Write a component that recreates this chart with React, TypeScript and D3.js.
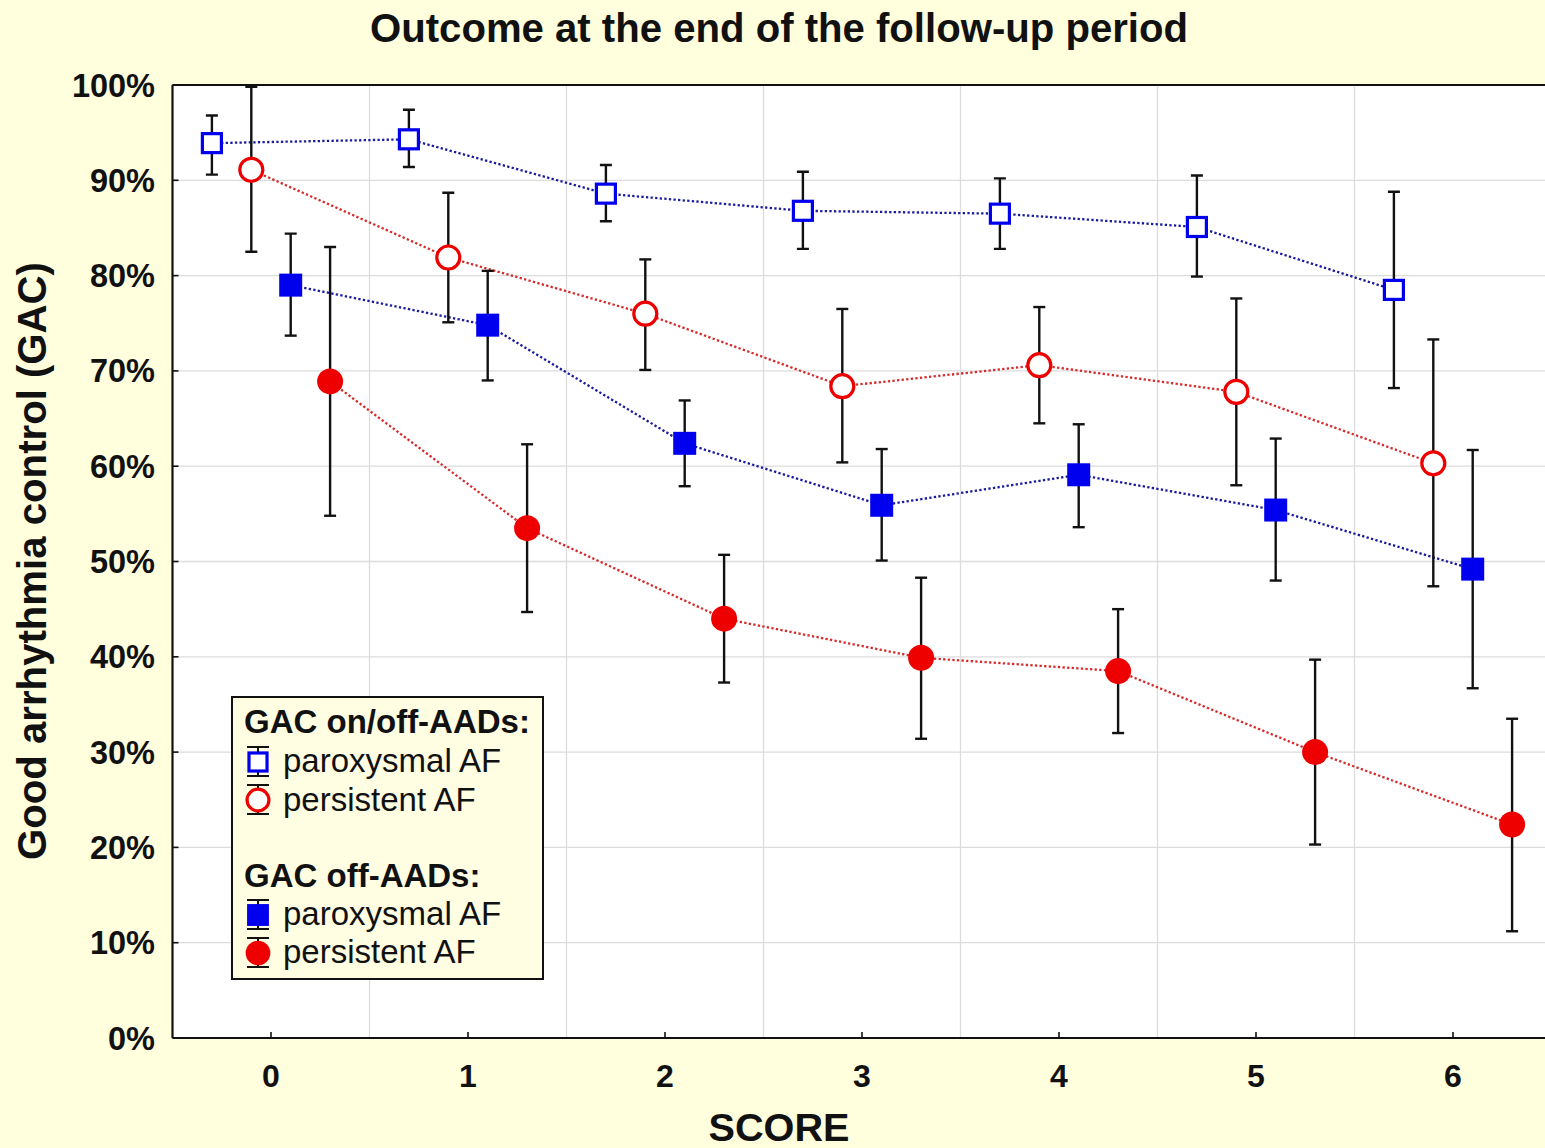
import React from "react";
import * as d3 from "d3";

const scores = [0, 1, 2, 3, 4, 5, 6];
const yTicks = [0, 10, 20, 30, 40, 50, 60, 70, 80, 90, 100];
const xGrid = [0.5, 1.5, 2.5, 3.5, 4.5, 5.5];

// GAC on/off-AADs, paroxysmal AF
const parOnOff = [93.9, 94.3, 88.6, 86.8, 86.5, 85.1, 78.5];
const parOnOffLo = [90.6, 91.4, 85.7, 82.8, 82.8, 79.9, 68.2];
const parOnOffHi = [96.8, 97.4, 91.6, 90.9, 90.2, 90.5, 88.8];
// GAC on/off-AADs, persistent AF
const persOnOff = [91.1, 81.9, 76.0, 68.4, 70.6, 67.8, 60.3];
const persOnOffLo = [82.5, 75.1, 70.1, 60.4, 64.5, 58.0, 47.4];
const persOnOffHi = [99.8, 88.7, 81.7, 76.5, 76.7, 77.6, 73.3];
// GAC off-AADs, paroxysmal AF
const parOff = [79.0, 74.8, 62.4, 55.9, 59.1, 55.4, 49.2];
const parOffLo = [73.7, 69.0, 57.9, 50.1, 53.6, 48.0, 36.7];
const parOffHi = [84.4, 80.5, 66.9, 61.8, 64.4, 62.9, 61.7];
// GAC off-AADs, persistent AF
const persOff = [68.9, 53.5, 44.0, 39.9, 38.5, 30.0, 22.4];
const persOffLo = [54.8, 44.7, 37.3, 31.4, 32.0, 20.3, 11.2];
const persOffHi = [83.0, 62.3, 50.7, 48.3, 45.0, 39.7, 33.5];

const W = 1545;
const H = 1148;
const BG = "#FFFEDD";
const FONT = "'Liberation Sans', Arial, sans-serif";
const BLUE_LINE = "#1a1aa0";
const RED_LINE = "#d62a2a";
const BLUE = "#0000ee";
const RED = "#ee0000";

const x = d3.scaleLinear().domain([-0.5, 6.5]).range([172.5, 1551.5]);
const y = d3.scaleLinear().domain([0, 100]).range([1038, 85]);

type Series = {
  vals: number[];
  lo: number[];
  hi: number[];
  off: number;
  shape: "square" | "circle";
  filled: boolean;
  lineColor: string;
};

const series: Series[] = [
  { vals: parOnOff, lo: parOnOffLo, hi: parOnOffHi, off: -0.3, shape: "square", filled: false, lineColor: BLUE_LINE },
  { vals: persOnOff, lo: persOnOffLo, hi: persOnOffHi, off: -0.1, shape: "circle", filled: false, lineColor: RED_LINE },
  { vals: parOff, lo: parOffLo, hi: parOffHi, off: 0.1, shape: "square", filled: true, lineColor: BLUE_LINE },
  { vals: persOff, lo: persOffLo, hi: persOffHi, off: 0.3, shape: "circle", filled: true, lineColor: RED_LINE },
];

function Marker({ cx, cy, shape, filled, scale = 1 }: { cx: number; cy: number; shape: string; filled: boolean; scale?: number }) {
  if (shape === "square") {
    if (filled) {
      const s = 23 * scale;
      return <rect x={cx - s / 2} y={cy - s / 2} width={s} height={s} fill={BLUE} />;
    }
    const s = 19 * scale;
    return <rect x={cx - s / 2} y={cy - s / 2} width={s} height={s} fill="#fff" stroke={BLUE} strokeWidth={3.2} />;
  }
  if (filled) return <circle cx={cx} cy={cy} r={13 * scale} fill={RED} />;
  return <circle cx={cx} cy={cy} r={11.5 * scale} fill="#fff" stroke={RED} strokeWidth={3.2} />;
}

export default function App() {
  const line = d3.line<[number, number]>().x((d) => d[0]).y((d) => d[1]);
  const legendItems = [
    { label: "paroxysmal AF", shape: "square", filled: false, cy: 762, base: 772 },
    { label: "persistent AF", shape: "circle", filled: false, cy: 800, base: 811 },
    { label: "paroxysmal AF", shape: "square", filled: true, cy: 915, base: 925 },
    { label: "persistent AF", shape: "circle", filled: true, cy: 953, base: 963 },
  ];
  return (
    <svg width={W} height={H} style={{ position: "absolute", left: 0, top: 0, display: "block" }} fontFamily={FONT}>
      <rect x={0} y={0} width={W} height={H} fill={BG} />
      <defs>
        <clipPath id="plotclip">
          <rect x={x(-0.5)} y={y(100)} width={x(6.5) - x(-0.5)} height={y(0) - y(100)} />
        </clipPath>
      </defs>
      {/* plot area */}
      <rect x={x(-0.5)} y={y(100)} width={x(6.5) - x(-0.5)} height={y(0) - y(100)} fill="#fff" />
      {/* grid */}
      {yTicks.filter((t) => t > 0 && t < 100).map((t) => (
        <line key={"gy" + t} x1={x(-0.5)} x2={x(6.5)} y1={y(t)} y2={y(t)} stroke="#dcdcdc" strokeWidth={1.3} />
      ))}
      {xGrid.map((g) => (
        <line key={"gx" + g} x1={x(g)} x2={x(g)} y1={y(100)} y2={y(0)} stroke="#dcdcdc" strokeWidth={1.3} />
      ))}
      {/* frame */}
      <line x1={x(-0.5)} x2={x(6.5)} y1={y(100)} y2={y(100)} stroke="#111" strokeWidth={2.2} />
      <line x1={x(-0.5)} x2={x(6.5)} y1={y(0)} y2={y(0)} stroke="#111" strokeWidth={2.2} />
      <line x1={x(-0.5)} x2={x(-0.5)} y1={y(100)} y2={y(0)} stroke="#111" strokeWidth={2.2} />
      {/* ticks */}
      {yTicks.map((t) => (
        <line key={"ty" + t} x1={x(-0.5)} x2={x(-0.5) + 6} y1={y(t)} y2={y(t)} stroke="#111" strokeWidth={1.6} />
      ))}
      {scores.map((s) => (
        <line key={"tx" + s} x1={x(s)} x2={x(s)} y1={y(0)} y2={y(0) - 6} stroke="#111" strokeWidth={1.6} />
      ))}
      {/* tick labels */}
      {yTicks.map((t) => (
        <text key={"ly" + t} x={155} y={y(t) + 11.5} textAnchor="end" fontSize={32.5} fontWeight="bold" fill="#111">
          {t + "%"}
        </text>
      ))}
      {scores.map((s) => (
        <text key={"lx" + s} x={x(s)} y={1087} textAnchor="middle" fontSize={32} fontWeight="bold" fill="#111">
          {s}
        </text>
      ))}
      {/* lines */}
      <g clipPath="url(#plotclip)">
        {series.map((se, i) => (
          <path
            key={"l" + i}
            d={line(se.vals.map((v, j) => [x(scores[j] + se.off), y(v)] as [number, number])) || ""}
            fill="none"
            stroke={se.lineColor}
            strokeWidth={2.3}
            strokeDasharray="2.3,2.3"
          />
        ))}
        {/* error bars */}
        {series.map((se, i) =>
          se.vals.map((v, j) => {
            const cx = x(scores[j] + se.off);
            return (
              <g key={"e" + i + "-" + j} stroke="#111" strokeWidth={2.4}>
                <line x1={cx} x2={cx} y1={y(se.lo[j])} y2={y(se.hi[j])} />
                <line x1={cx - 6} x2={cx + 6} y1={y(se.lo[j])} y2={y(se.lo[j])} />
                <line x1={cx - 6} x2={cx + 6} y1={y(se.hi[j])} y2={y(se.hi[j])} />
              </g>
            );
          })
        )}
        {series.map((se, i) =>
          se.vals.map((v, j) => (
            <Marker key={"m" + i + "-" + j} cx={x(scores[j] + se.off)} cy={y(v)} shape={se.shape} filled={se.filled} />
          ))
        )}
      </g>
      {/* legend */}
      <rect x={232} y={697} width={311} height={282} fill="#FFFEE2" stroke="#111" strokeWidth={2} />
      <text x={244} y={733} fontSize={33} fontWeight="bold" fill="#111">GAC on/off-AADs:</text>
      <text x={244} y={887} fontSize={33} fontWeight="bold" fill="#111">GAC off-AADs:</text>
      {legendItems.map((it, i) => (
        <g key={"lg" + i}>
          <g stroke="#111" strokeWidth={2}>
            <line x1={258} x2={258} y1={it.cy - 15} y2={it.cy + 14} />
            <line x1={247} x2={269} y1={it.cy - 15} y2={it.cy - 15} />
            <line x1={247} x2={269} y1={it.cy + 14} y2={it.cy + 14} />
          </g>
          <Marker cx={258} cy={it.cy} shape={it.shape} filled={it.filled} scale={0.95} />
          <text x={283} y={it.base} fontSize={33} fill="#111">{it.label}</text>
        </g>
      ))}
      {/* titles */}
      <text x={779} y={42} textAnchor="middle" fontSize={40} fontWeight="bold" fill="#111" textLength={818} lengthAdjust="spacingAndGlyphs">
        Outcome at the end of the follow-up period
      </text>
      <text x={779} y={1141} textAnchor="middle" fontSize={39} fontWeight="bold" fill="#111" textLength={141} lengthAdjust="spacingAndGlyphs">SCORE</text>
      <text
        transform={`translate(46, 561) rotate(-90)`}
        textAnchor="middle"
        fontSize={40}
        fontWeight="bold"
        fill="#111"
        textLength={598}
        lengthAdjust="spacingAndGlyphs"
      >
        Good arrhythmia control (GAC)
      </text>
    </svg>
  );
}
